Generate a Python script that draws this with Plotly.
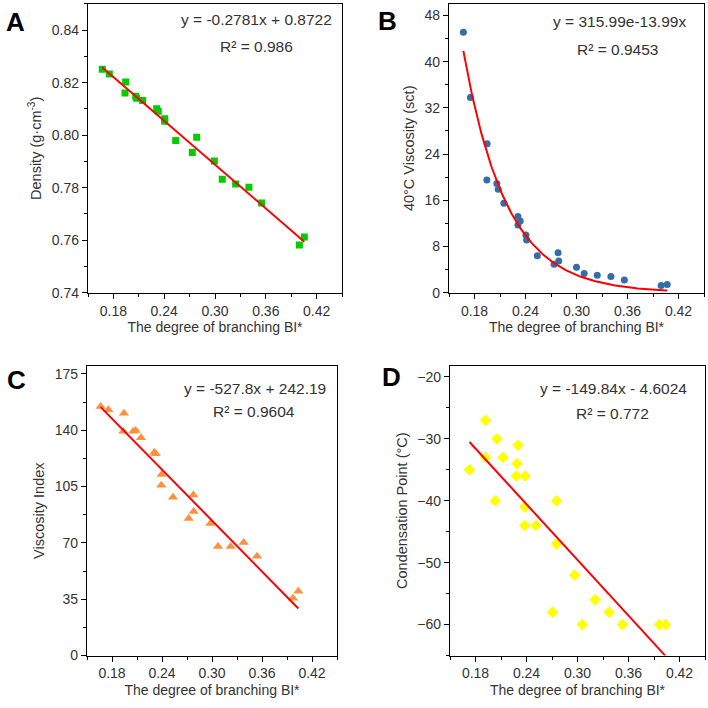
import numpy as np
import plotly.graph_objects as go

# ---------------- data ----------------
# Panel A: density vs BI*
a_x = [0.1669, 0.1752, 0.1945, 0.1937, 0.2063, 0.2075, 0.2146, 0.2311, 0.2330, 0.2406, 0.2406,
       0.2536, 0.2784, 0.2732, 0.2992, 0.3086, 0.3244, 0.3401, 0.3551, 0.3996, 0.4055]
a_y = [0.8251, 0.8233, 0.8203, 0.8161, 0.8148, 0.8141, 0.8132, 0.8101, 0.8091, 0.8063, 0.8053,
       0.7980, 0.7992, 0.7934, 0.7902, 0.7832, 0.7814, 0.7802, 0.7742, 0.7582, 0.7612]
a_slope, a_intercept = -0.2781, 0.8722

# Panel B: 40 °C viscosity vs BI*
b_x = [0.1669, 0.1752, 0.1949, 0.1945, 0.2063, 0.2079, 0.2145, 0.2311, 0.2338, 0.2311, 0.2405, 0.2413,
       0.2539, 0.2783, 0.2791, 0.2736, 0.3000, 0.3090, 0.3244, 0.3405, 0.3563, 0.3996, 0.4067]
b_y = [45.1, 33.8, 25.8, 19.5, 18.9, 17.9, 15.5, 13.2, 12.4, 11.7, 10.0, 9.1,
       6.4, 6.9, 5.5, 4.9, 4.4, 3.3, 3.0, 2.8, 2.2, 1.25, 1.4]

# Panel C: viscosity index vs BI*
c_x = [0.1664, 0.1756, 0.1944, 0.1936, 0.2056, 0.2084, 0.2148, 0.2308, 0.2324, 0.2396, 0.2392,
       0.2532, 0.2776, 0.2780, 0.2720, 0.2980, 0.3072, 0.3224, 0.3380, 0.3540, 0.3972, 0.4036]
c_y = [154.7, 152.7, 150.6, 139.4, 139.4, 139.8, 135.3, 126.3, 125.3, 112.4, 105.8,
       98.4, 99.7, 89.5, 85.2, 82.1, 67.7, 67.7, 70.2, 61.6, 35.6, 39.9]
c_slope, c_intercept = -527.8, 242.19

# Panel D: condensation point vs BI*
d_x = [0.1918, 0.2052, 0.2300, 0.2123, 0.1918, 0.2288, 0.1729, 0.2281, 0.2383, 0.2033, 0.2754, 0.2379,
       0.2379, 0.2509, 0.2754, 0.2966, 0.3207, 0.2707, 0.3372, 0.3057, 0.3529, 0.3963, 0.4034]
d_y = [-27, -30, -31, -33, -33, -34, -35, -36, -36, -40, -40, -41,
       -44, -44, -47, -52, -56, -58, -58, -60, -60, -60, -60]
d_slope, d_intercept = -149.84, -4.6024

x_ticks = [0.18, 0.24, 0.30, 0.36, 0.42]
x_title = "The degree of branching BI*"

FONT = "Arial, Liberation Sans, Helvetica, sans-serif"
TXT = "#333333"

fig = go.Figure()

def line_fit(xs, m, b):
    xe = np.array([min(xs), max(xs)])
    return xe, m * xe + b

# A
fig.add_trace(go.Scatter(x=a_x, y=a_y, mode="markers", xaxis="x", yaxis="y",
                         marker=dict(symbol="square", size=7, color="#00CC00"), showlegend=False))
lx, ly = line_fit(a_x, a_slope, a_intercept)
fig.add_trace(go.Scatter(x=lx, y=ly, mode="lines", xaxis="x", yaxis="y",
                         line=dict(color="#FF0000", width=2), showlegend=False))

# B  (exponential trend y = A*exp(-k x), least squares fitted to the points)
bx = np.array(b_x); by = np.array(b_y)
best = None
for k in np.linspace(5, 40, 1401):
    e = np.exp(-k * bx)
    A = float(np.dot(e, by) / np.dot(e, e))
    sse = float(np.sum((A * e - by) ** 2))
    if best is None or sse < best[0]:
        best = (sse, k, A)
_, kk, AA = best
bxx = np.linspace(bx.min(), bx.max(), 200)
byy = AA * np.exp(-kk * bxx)
fig.add_trace(go.Scatter(x=b_x, y=b_y, mode="markers", xaxis="x2", yaxis="y2",
                         marker=dict(symbol="circle", size=7, color="#336EA8"), showlegend=False))
fig.add_trace(go.Scatter(x=bxx, y=byy, mode="lines", xaxis="x2", yaxis="y2",
                         line=dict(color="#FF0000", width=2), showlegend=False))

# C
fig.add_trace(go.Scatter(x=c_x, y=c_y, mode="markers", xaxis="x3", yaxis="y3",
                         marker=dict(symbol="triangle-up", size=9, color="#FF9040"), showlegend=False))
lx, ly = line_fit(c_x, c_slope, c_intercept)
fig.add_trace(go.Scatter(x=lx, y=ly, mode="lines", xaxis="x3", yaxis="y3",
                         line=dict(color="#FF0000", width=2), showlegend=False))

# D
fig.add_trace(go.Scatter(x=d_x, y=d_y, mode="markers", xaxis="x4", yaxis="y4",
                         marker=dict(symbol="diamond", size=9, color="#FFFF00"), showlegend=False))
lx, ly = line_fit(d_x, d_slope, d_intercept)
fig.add_trace(go.Scatter(x=lx, y=ly, mode="lines", xaxis="x4", yaxis="y4",
                         line=dict(color="#FF0000", width=2), showlegend=False))


def xaxis(domain, anchor):
    return dict(domain=domain, anchor=anchor, range=[0.15, 0.45], tickvals=x_ticks,
                tickformat=".2f", showline=True, linecolor="black", linewidth=1.3, mirror=True,
                ticks="outside", ticklen=5, tickwidth=1.2, tickcolor="black",
                showgrid=False, zeroline=False,
                tickfont=dict(family=FONT, size=14, color=TXT),
                minor=dict(ticks="outside", ticklen=3, tickwidth=1.2, tickcolor="black",
                           tick0=0.15, dtick=0.03),
                title=dict(text=x_title, font=dict(family=FONT, size=14, color=TXT), standoff=4))


def yaxis(domain, anchor, rng, dtick, minor, title, fmt=None, tick0=0):
    d = dict(domain=domain, anchor=anchor, range=rng, tick0=tick0, dtick=dtick,
             showline=True, linecolor="black", linewidth=1.3, mirror=True,
             ticks="outside", ticklen=5, tickwidth=1.2, tickcolor="black",
             showgrid=False, zeroline=False,
             tickfont=dict(family=FONT, size=14, color=TXT),
             minor=dict(ticks="outside", ticklen=3, tickwidth=1.2, tickcolor="black",
                        tick0=tick0, dtick=minor),
             title=dict(text=title, font=dict(family=FONT, size=14.5, color=TXT), standoff=6))
    if fmt:
        d["tickformat"] = fmt
    return d

top = [1 - 296 / 708, 1 - 4 / 708]
bot = [1 - 663 / 708, 1 - 370 / 708]

fig.update_layout(
    width=708, height=708, autosize=False,
    margin=dict(l=0, r=0, t=0, b=0),
    paper_bgcolor="white", plot_bgcolor="white",
    font=dict(family=FONT, color=TXT),
    xaxis=xaxis([88 / 708, 342 / 708], "y"),
    yaxis=yaxis(top, "x", [0.74, 0.85], 0.02, 0.01, "Density (g·cm<sup>-3</sup>)", ".2f", 0.74),
    xaxis2=xaxis([449 / 708, 704 / 708], "y2"),
    yaxis2=yaxis(top, "x2", [0, 50], 8, 4, "40°C Viscosity (sct)"),
    xaxis3=xaxis([87 / 708, 337 / 708], "y3"),
    yaxis3=yaxis(bot, "x3", [0, 180], 35, 17.5, "Viscosity Index"),
    xaxis4=xaxis([450 / 708, 705 / 708], "y4"),
    yaxis4=yaxis(bot, "x4", [-65, -18.2], 10, 5, "Condensation Point (°C)", None, -60),
)

ann = []
def txt(x, y, s, size=15.5, bold=False, color=TXT):
    ann.append(dict(x=x / 708, y=1 - y / 708, xref="paper", yref="paper", text=("<b>%s</b>" % s) if bold else s,
                    showarrow=False, xanchor="center", yanchor="middle",
                    font=dict(family=FONT, size=size, color=color)))

txt(256, 20, "y = -0.2781x + 0.8722")
txt(256, 47, "R² = 0.986")
txt(619, 22, "y = 315.99e-13.99x")
txt(617, 50, "R² = 0.9453")
txt(255, 393, "y = -527.8x + 242.19")
txt(254, 416, "R² = 0.9604")
txt(613, 393, "y = -149.84x - 4.6024")
txt(612, 418, "R² = 0.772")

txt(15, 22, "A", size=26, bold=True, color="black")
txt(388, 21, "B", size=26, bold=True, color="black")
txt(16, 384, "C", size=26, bold=True, color="black")
txt(391, 381, "D", size=26, bold=True, color="black")

fig.update_layout(annotations=ann)
fig.write_html("out.html")
